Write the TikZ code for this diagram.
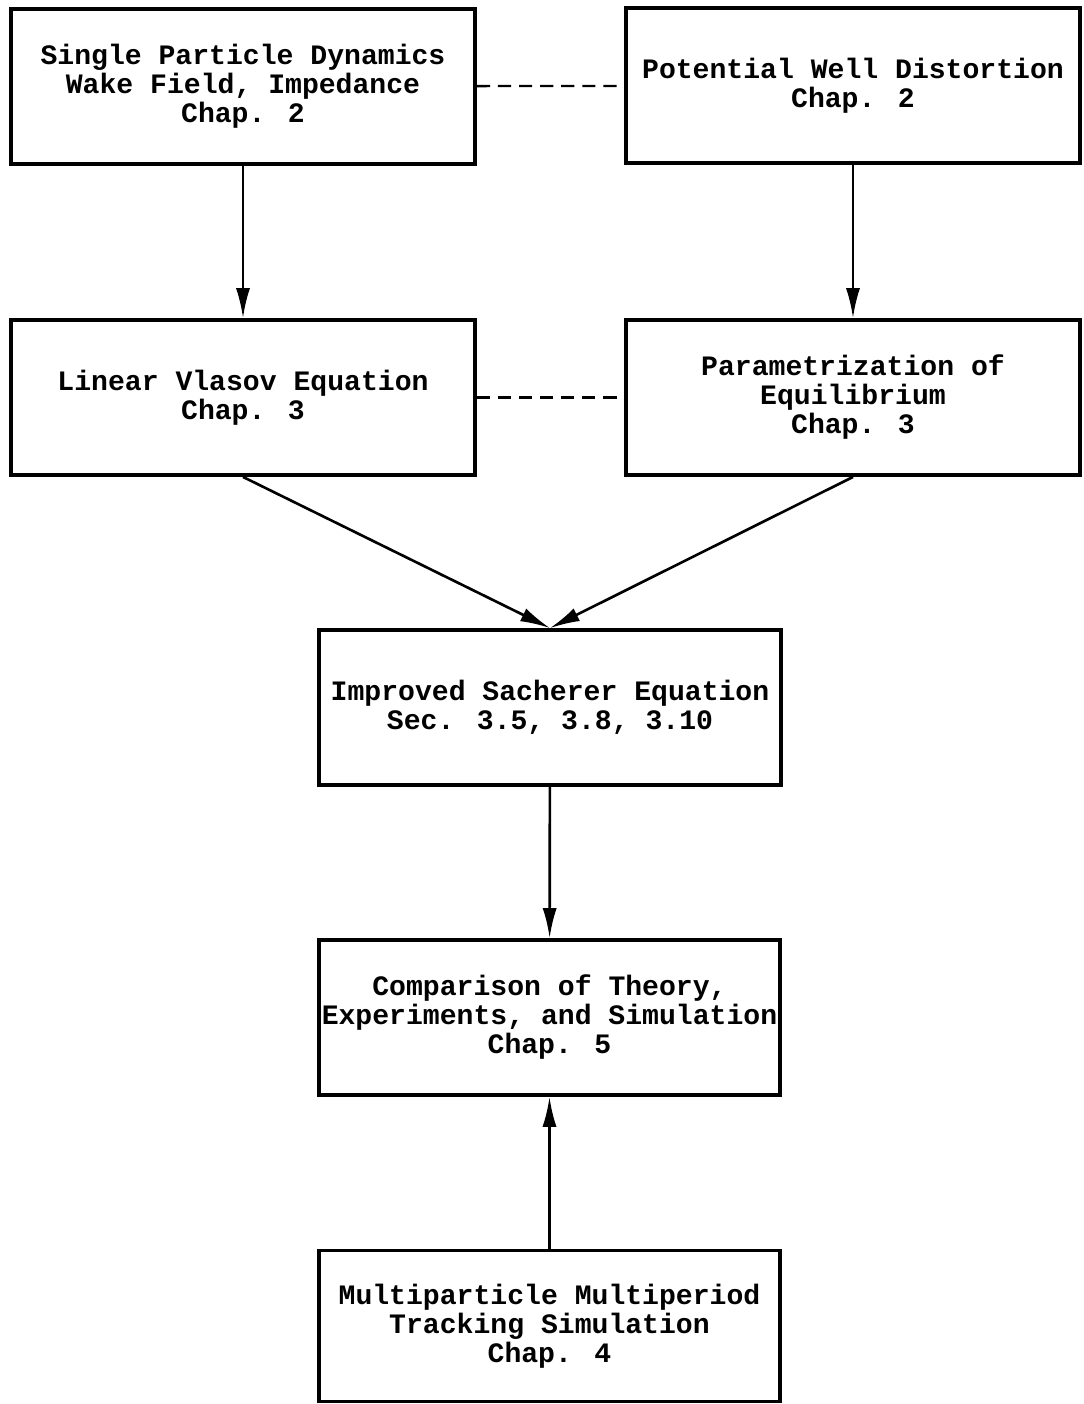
\documentclass[tikz,border=0pt]{standalone}
\usepackage{fontspec}
\setmainfont{Liberation Mono}
\usetikzlibrary{arrows.meta}
\begin{document}
\begin{tikzpicture}[x=0.02cm,y=-0.02cm,
  box/.style={draw,line width=2.2pt,minimum width=9.28cm,minimum height=3.1cm,inner xsep=1pt,
    align=center,font=\bfseries\fontsize{16}{16.5}\selectfont},
  boxr/.style={box,minimum width=9.08cm},
  flow/.style={line width=1.5pt,-{Latex[length=17pt,width=8pt]}},
  link/.style={line width=1.3pt,dash pattern=on 7.5pt off 4.5pt}]
\useasboundingbox (0,0) rectangle (1083,1404);
%
\node[box] (single) at (243,86.5) {Single Particle Dynamics\\Wake Field, Impedance\\Chap. 2};
\node[boxr] (well) at (853,85.5) {Potential Well Distortion\\Chap. 2};
\node[box] (vlasov) at (243,397.5) {Linear Vlasov Equation\\Chap. 3};
\node[boxr] (param) at (853,397.5) {Parametrization of\\Equilibrium\\Chap. 3};
\node[box,minimum width=9.24cm] (sacherer) at (550,707.5) {Improved Sacherer Equation\\Sec. 3.5, 3.8, 3.10};
\node[box,minimum width=9.22cm] (compare) at (549.5,1017.5) {Comparison of Theory,\\Experiments, and Simulation\\Chap. 5};
\node[box,minimum width=9.22cm,minimum height=3.02cm] (track) at (549.5,1326) {Multiparticle Multiperiod\\Tracking Simulation\\Chap. 4};
%
\draw[link](single)--(well);
\draw[link](vlasov.east)--(param.west);
\draw[flow](single)--(vlasov);
\draw[flow](well)--(param);
\draw[flow](vlasov.south)--(sacherer.north);
\draw[flow](param.south)--(sacherer.north);
\draw[flow](sacherer)--(compare);
\draw[flow](track)--(compare);
\end{tikzpicture}
\end{document}
